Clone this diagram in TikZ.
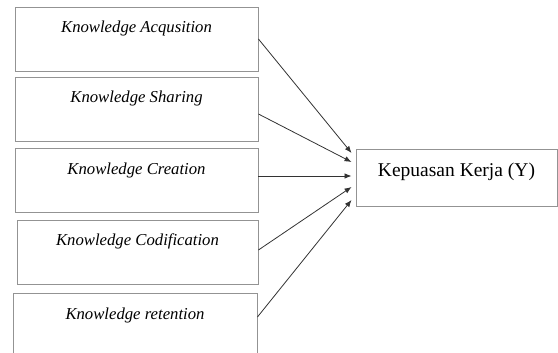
\documentclass[tikz,border=0pt]{standalone}
\usepackage{fontspec}
\setmainfont{Liberation Serif}
\usetikzlibrary{arrows.meta}

\begin{document}
\begin{tikzpicture}[x=1pt, y=-1pt,
  varbox/.style={draw=gray!85, line width=0.9pt, inner sep=0pt,
    minimum height=64pt, text height=26pt, text depth=38pt,
    font=\fontsize{16.7}{20}\selectfont\itshape},
  ybox/.style={draw=gray!85, line width=0.9pt, inner sep=0pt,
    minimum width=201pt, minimum height=57pt, text height=28pt, text depth=29pt,
    font=\fontsize{19.5}{22}\selectfont},
  effect/.style={draw=black!80, line width=0.8pt, -{Latex[length=7pt,width=5.5pt]}}]
  \useasboundingbox (0,0) rectangle (558,353);

  % Knowledge management dimensions
  \node[varbox, minimum width=243pt] (acq) at (136.5,39)  {Knowledge Acqusition};
  \node[varbox, minimum width=243pt] (sha) at (136.5,109) {Knowledge Sharing};
  \node[varbox, minimum width=243pt] (cre) at (136.5,180.5) {Knowledge Creation};
  \node[varbox, minimum width=241pt] (cod) at (137.5,252) {Knowledge Codification};
  \node[varbox, minimum width=244pt] (ret) at (135,325)   {Knowledge retention};

  % Job satisfaction
  \node[ybox] (kep) at (456.5,177.5) {Kepuasan Kerja (Y)};

  % Paths into Y
  \foreach \src/\sy/\dy in {acq/0/24.5, sha/-5/15.5, cre/4.5/1.5, cod/2/-9.5, ret/8/-22.5}
    \draw[effect] ([yshift=\sy pt]\src.east) -- ([xshift=-4pt, yshift=\dy pt]kep.west);
\end{tikzpicture}
\end{document}
